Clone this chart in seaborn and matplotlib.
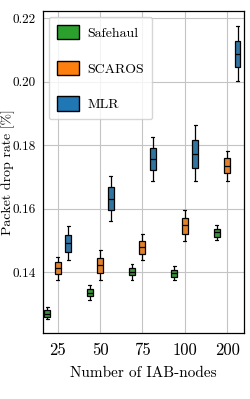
import numpy as np
import pandas as pd
import matplotlib
matplotlib.use('Agg')
import matplotlib.pyplot as plt
import matplotlib.ticker as mticker
from matplotlib.patches import Patch
import seaborn as sns

nodes = ['25', '50', '75', '100', '200']
methods = ['Safehaul', 'SCAROS', 'MLR']
colors = ['#2ca02c', '#ff7f0e', '#1f77b4']

# five-number summaries: low whisker, q1, median, q3, high whisker
safehaul = [[0.1252, 0.1260, 0.1270, 0.1282, 0.1290],
            [0.1313, 0.1325, 0.1336, 0.1348, 0.1359],
            [0.1377, 0.1391, 0.1403, 0.1414, 0.1427],
            [0.1377, 0.1387, 0.1399, 0.1408, 0.1420],
            [0.1503, 0.1513, 0.1527, 0.1537, 0.1548]]
scaros = [[0.1377, 0.1396, 0.1415, 0.1432, 0.1450],
          [0.1377, 0.1399, 0.1425, 0.1444, 0.1471],
          [0.1438, 0.1459, 0.1479, 0.1500, 0.1522],
          [0.1500, 0.1522, 0.1550, 0.1572, 0.1595],
          [0.1689, 0.1712, 0.1736, 0.1759, 0.1781]]
mlr = [[0.1438, 0.1464, 0.1493, 0.1518, 0.1545],
       [0.1563, 0.1597, 0.1631, 0.1668, 0.1702],
       [0.1688, 0.1722, 0.1757, 0.1792, 0.1825],
       [0.1688, 0.1729, 0.1773, 0.1817, 0.1863],
       [0.2001, 0.2045, 0.2087, 0.2129, 0.2174]]

rows = []
for name, stats in zip(methods, [safehaul, scaros, mlr]):
    for n, vals in zip(nodes, stats):
        for v in vals:
            rows.append({'nodes': n, 'method': name, 'rate': v})
df = pd.DataFrame(rows)

sns.set_theme(style='whitegrid')
plt.rcParams['font.family'] = 'serif'
plt.rcParams['font.serif'] = ['cmr10', 'DejaVu Serif']
plt.rcParams['axes.formatter.use_mathtext'] = True
plt.rcParams['text.color'] = 'black'
plt.rcParams['axes.labelcolor'] = 'black'
plt.rcParams['xtick.color'] = 'black'
plt.rcParams['ytick.color'] = 'black'

fig, ax = plt.subplots(figsize=(2.5, 3.99), dpi=100)
fig.subplots_adjust(left=0.172, right=0.976, top=0.972, bottom=0.165)

sns.boxplot(data=df, x='nodes', y='rate', hue='method', order=nodes,
            hue_order=methods, palette=colors, width=0.74, gap=0.43,
            whis=(0, 100), linecolor='black', linewidth=0.9,
            legend=False, ax=ax)

ax.set_ylim(0.1209, 0.2222)
ax.set_xlim(-0.35, 4.4)
ax.set_yticks([0.14, 0.16, 0.18, 0.20, 0.22])
ax.yaxis.set_major_formatter(mticker.FormatStrFormatter('%.2f'))
ax.tick_params(axis='y', labelsize=9.5, length=3, pad=2)
ax.tick_params(axis='x', labelsize=12, length=3, pad=4)
ax.set_xlabel('Number of IAB-nodes', fontsize=11, labelpad=6)
ax.set_ylabel('Packet drop rate [%]', fontsize=10)
ax.yaxis.set_label_coords(-0.14, 0.5)
ax.grid(True, color='#c4c4c4', linewidth=0.8)
for s in ax.spines.values():
    s.set_color('black')
    s.set_linewidth(0.9)

handles = [Patch(facecolor=c, edgecolor='black', label=m) for m, c in zip(methods, colors)]
ax.legend(handles=handles, loc='upper left', fontsize=10, frameon=True,
          handlelength=1.6, handleheight=1.2, labelspacing=1.5,
          handletextpad=0.6, borderpad=0.6, borderaxespad=0.4,
          edgecolor='#cccccc')

fig.savefig('out.png', dpi=100)
